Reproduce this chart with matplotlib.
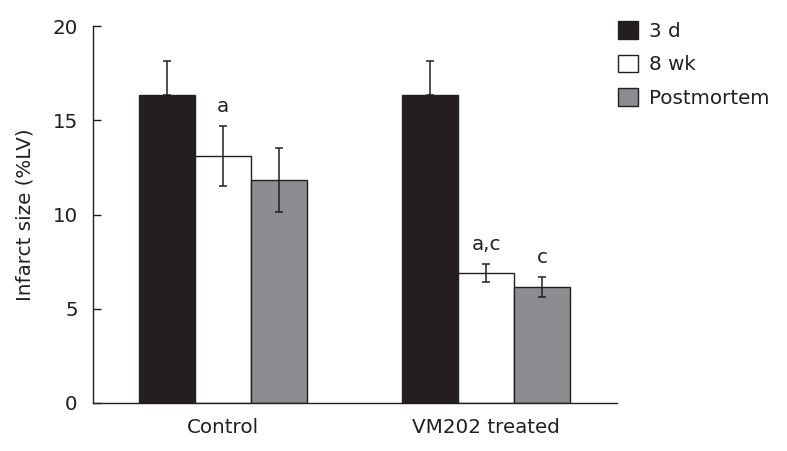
import matplotlib
matplotlib.use("Agg")
import matplotlib.pyplot as plt
import numpy as np

groups = ["Control", "VM202 treated"]
series = ["3 d", "8 wk", "Postmortem"]
values = {
    "3 d": [16.35, 16.35],
    "8 wk": [13.1, 6.9],
    "Postmortem": [11.85, 6.15],
}
errors = {
    "3 d": [1.8, 1.8],
    "8 wk": [1.6, 0.5],
    "Postmortem": [1.7, 0.55],
}
annotations = {
    "8 wk": ["a", "a,c"],
    "Postmortem": ["", "c"],
}
colors = {"3 d": "#231f20", "8 wk": "#ffffff", "Postmortem": "#8c8d91"}

FS = 14.3
plt.rcParams['font.family'] = ['DejaVu Sans']
fig = plt.figure(figsize=(7.87, 4.51), dpi=100)
ax = fig.add_axes([93/787, 1-403/451, (617-93)/787, (403-26)/451])

x = np.arange(len(groups))
w = 56/263
for i, s in enumerate(series):
    xs = x + (i - 1) * w
    ax.bar(xs, values[s], width=w, color=colors[s], edgecolor="#231f20",
           linewidth=1.0, label=s, zorder=2)
    if s == "3 d":
        lower = [0] * len(groups)
    else:
        lower = errors[s]
    ax.errorbar(xs, values[s], yerr=[lower, errors[s]], fmt="none",
                ecolor="#231f20", elinewidth=1.1, capsize=3, capthick=1.1, zorder=3)
    if s in annotations:
        for xi, v, e, t in zip(xs, values[s], errors[s], annotations[s]):
            if t:
                ax.text(xi, v + e + 0.5, t, ha="center", va="bottom", fontsize=FS,
                        color="#231f20")

ax.set_xlim(-130/263, 394/263)
ax.set_ylim(0, 20)
ax.set_yticks([0, 5, 10, 15, 20])
ax.set_xticks(x)
ax.set_xticklabels(groups, fontsize=FS, color="#231f20")
ax.tick_params(axis="x", length=0, pad=11)
ax.tick_params(axis="y", direction="in", length=6, width=1.0, labelsize=FS, pad=11,
               labelcolor="#231f20", color="#231f20")
for sp in ["top", "right"]:
    ax.spines[sp].set_visible(False)
for sp in ["left", "bottom"]:
    ax.spines[sp].set_linewidth(1.0)
    ax.spines[sp].set_color("#231f20")
ax.set_ylabel("Infarct size (%LV)", fontsize=FS, labelpad=13, color="#231f20")

leg = ax.legend(loc="upper left", bbox_to_anchor=(618/787, 1-21/451),
                bbox_transform=fig.transFigure, frameon=False, fontsize=FS,
                handlelength=1.0, handleheight=1.0, labelspacing=0.7,
                handletextpad=0.55, borderaxespad=0, borderpad=0)
for t in leg.get_texts():
    t.set_color("#231f20")

fig.savefig("out.png", dpi=100)
